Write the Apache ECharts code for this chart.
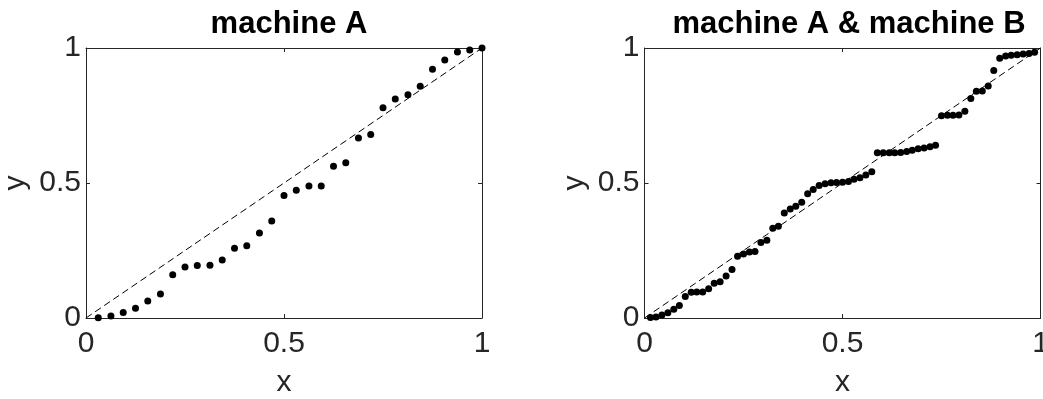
<!DOCTYPE html>
<html>
<head>
<meta charset="utf-8">
<script src="https://cdn.jsdelivr.net/npm/echarts@6/dist/echarts.min.js"></script>
<style>
html,body{margin:0;padding:0;background:#fff;}
#c{width:1043px;height:399px;}
</style>
</head>
<body>
<div id="c"></div>
<script>
const titles = ['machine A', 'machine A & machine B'];
const tickValues = [0, 0.5, 1];
const xName = 'x';
const yName = 'y';

const leftX = [0.031, 0.063, 0.094, 0.125, 0.156, 0.188, 0.219, 0.25, 0.281, 0.313, 0.344, 0.375, 0.406, 0.438, 0.469, 0.5,
  0.531, 0.563, 0.594, 0.625, 0.656, 0.688, 0.719, 0.75, 0.781, 0.813, 0.844, 0.875, 0.906, 0.938, 0.969, 1.0];
const leftY = [0.001, 0.007, 0.020, 0.036, 0.063, 0.089, 0.160, 0.189, 0.194, 0.195, 0.215, 0.258, 0.268, 0.315, 0.359, 0.454,
  0.473, 0.489, 0.489, 0.562, 0.575, 0.667, 0.680, 0.779, 0.811, 0.827, 0.858, 0.921, 0.956, 0.985, 0.993, 1.0];

const rightX = [0.015, 0.029, 0.044, 0.059, 0.074, 0.088, 0.103, 0.118, 0.132, 0.147, 0.162, 0.176, 0.191, 0.206, 0.221, 0.235,
  0.250, 0.265, 0.279, 0.294, 0.309, 0.324, 0.338, 0.353, 0.368, 0.382, 0.397, 0.412, 0.426, 0.441, 0.456, 0.471,
  0.485, 0.500, 0.515, 0.529, 0.544, 0.559, 0.574, 0.588, 0.603, 0.618, 0.632, 0.647, 0.662, 0.676, 0.691, 0.706,
  0.721, 0.735, 0.750, 0.765, 0.779, 0.794, 0.809, 0.824, 0.838, 0.853, 0.868, 0.882, 0.897, 0.912, 0.926, 0.941,
  0.956, 0.971, 0.985];
const rightY = [0.002, 0.004, 0.011, 0.019, 0.032, 0.046, 0.080, 0.095, 0.096, 0.096, 0.108, 0.129, 0.134, 0.156, 0.180, 0.229,
  0.237, 0.244, 0.246, 0.280, 0.288, 0.332, 0.340, 0.389, 0.404, 0.414, 0.429, 0.460, 0.476, 0.491, 0.497, 0.501,
  0.502, 0.503, 0.506, 0.514, 0.519, 0.530, 0.542, 0.612, 0.612, 0.612, 0.612, 0.613, 0.617, 0.621, 0.627, 0.630,
  0.634, 0.640, 0.749, 0.751, 0.751, 0.752, 0.766, 0.813, 0.840, 0.841, 0.859, 0.917, 0.962, 0.970, 0.973, 0.975,
  0.978, 0.980, 0.984];

const refLine = [[0, 0], [1, 1]];

const FONT = 'Liberation Sans';
const AX = '#262626';
const zip = (a, b) => a.map((v, i) => [v, b[i]]);

const grids = [
  {left: 86, top: 48, width: 396, height: 270, outerBoundsMode: 'none', containLabel: false},
  {left: 644.5, top: 48, width: 396, height: 270, outerBoundsMode: 'none', containLabel: false}
];

function mkX(g, pos, labels) {
  return {
    type: 'value', gridIndex: g, position: pos, min: 0, max: 1, interval: 0.5,
    axisLine: {show: true, onZero: false, lineStyle: {color: AX, width: 1}},
    axisTick: {show: true, inside: true, length: 4, lineStyle: {color: AX}},
    axisLabel: {show: labels, fontFamily: FONT, fontSize: 30, color: AX, margin: 11,
      formatter: v => tickValues.includes(v) ? String(v) : ''},
    splitLine: {show: false},
    name: labels ? xName : '', nameLocation: 'middle', nameGap: 50,
    nameTextStyle: {fontFamily: FONT, fontSize: 30, color: AX}
  };
}
function mkY(g, pos, labels) {
  return {
    type: 'value', gridIndex: g, position: pos, min: 0, max: 1, interval: 0.5,
    axisLine: {show: true, onZero: false, lineStyle: {color: AX, width: 1}},
    axisTick: {show: true, inside: true, length: 4, lineStyle: {color: AX}},
    axisLabel: {show: labels, fontFamily: FONT, fontSize: 30, color: AX, margin: 5,
      formatter: v => tickValues.includes(v) ? String(v) : ''},
    splitLine: {show: false},
    name: labels ? yName : '', nameLocation: 'middle', nameGap: 55, nameRotate: 90,
    nameTextStyle: {fontFamily: FONT, fontSize: 30, color: AX}
  };
}

const option = {
  animation: false,
  backgroundColor: '#fff',
  title: [
    {text: titles[0], left: 284, top: 4, textAlign: 'center',
      textStyle: {fontFamily: FONT, fontSize: 31, fontWeight: 'bold', color: '#000'}},
    {text: titles[1], left: 844, top: 4, textAlign: 'center',
      textStyle: {fontFamily: FONT, fontSize: 31, fontWeight: 'bold', color: '#000'}}
  ],
  grid: grids,
  xAxis: [mkX(0, 'bottom', true), mkX(0, 'top', false), mkX(1, 'bottom', true), mkX(1, 'top', false)],
  yAxis: [mkY(0, 'left', true), mkY(0, 'right', false), mkY(1, 'left', true), mkY(1, 'right', false)],
  series: [
    {type: 'line', xAxisIndex: 0, yAxisIndex: 0, data: refLine, symbol: 'none',
      lineStyle: {color: '#000', width: 1, type: [7, 4]}},
    {type: 'scatter', xAxisIndex: 0, yAxisIndex: 0, data: zip(leftX, leftY), symbol: 'circle', symbolSize: 7,
      itemStyle: {color: '#000', opacity: 1}, clip: false},
    {type: 'line', xAxisIndex: 2, yAxisIndex: 2, data: refLine, symbol: 'none',
      lineStyle: {color: '#000', width: 1, type: [7, 4]}},
    {type: 'scatter', xAxisIndex: 2, yAxisIndex: 2, data: zip(rightX, rightY), symbol: 'circle', symbolSize: 7,
      itemStyle: {color: '#000', opacity: 1}, clip: false}
  ]
};

const chart = echarts.init(document.getElementById('c'), null, {renderer: 'canvas'});
chart.setOption(option);
</script>
</body>
</html>
